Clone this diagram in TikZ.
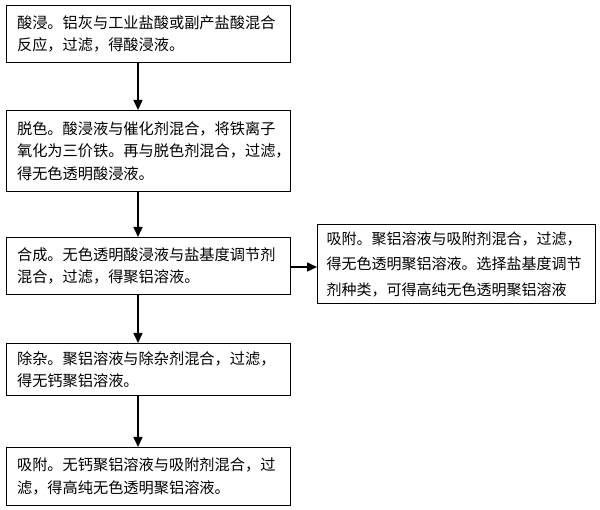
\documentclass[tikz,border=0pt]{standalone}
\usepackage{fontspec}
\setmainfont{Noto Sans CJK SC}
\usetikzlibrary{arrows.meta}
\tikzset{every picture/.style={line width=1.2pt}}
\tikzset{stepbox/.style={draw, rectangle, anchor=north west, align=left, inner xsep=10.5pt, inner ysep=0pt,
  font=\fontsize{15.2}{22.5}\selectfont},
  flowarrow/.style={line width=1.5pt, -{Triangle[length=10pt,width=9pt]}}}

\begin{document}
\begin{tikzpicture}[x=1pt,y=1pt,yscale=-1,xscale=1]
\useasboundingbox (0,0) rectangle (600,510);

% Text Node
\node [stepbox, text width=263, minimum height=57] (leach) at (6,5) {酸浸。铝灰与工业盐酸或副产盐酸混合\\反应，过滤，得酸浸液。};
% Text Node
\node [stepbox, text width=263, minimum height=81] (decolor) at (6,110) {脱色。酸浸液与催化剂混合，将铁离子\\氧化为三价铁。再与脱色剂混合，过滤，\\得无色透明酸浸液。};
% Text Node
\node [stepbox, text width=263, minimum height=57] (synth) at (6,237) {合成。无色透明酸浸液与盐基度调节剂\\混合，过滤，得聚铝溶液。};
% Text Node
\node [stepbox, text width=263, minimum height=52] (purify) at (6,343) {除杂。聚铝溶液与除杂剂混合，过滤，\\得无钙聚铝溶液。};
% Text Node
\node [stepbox, text width=263, minimum height=58] (adsorb) at (6,447) {吸附。无钙聚铝溶液与吸附剂混合，过\\滤，得高纯无色透明聚铝溶液。};
% Text Node
\node [stepbox, text width=260, inner xsep=9pt, minimum height=79, font=\fontsize{15}{25.5}\selectfont] (sideadsorb) at (317,224) {吸附。聚铝溶液与吸附剂混合，过滤，\\得无色透明聚铝溶液。选择盐基度调节\\剂种类，可得高纯无色透明聚铝溶液};

%Straight Lines
\draw [flowarrow] (leach.south -| 138,0) -- (decolor.north -| 138,0);
\draw [flowarrow] (decolor.south -| 138,0) -- (synth.north -| 138,0);
\draw [flowarrow] (synth.south -| 138,0) -- (purify.north -| 138,0);
\draw [flowarrow] (purify.south -| 138,0) -- (adsorb.north -| 138,0);
\draw [flowarrow] (synth.east |- 0,267) -- (sideadsorb.west |- 0,267);

\end{tikzpicture}
\end{document}
